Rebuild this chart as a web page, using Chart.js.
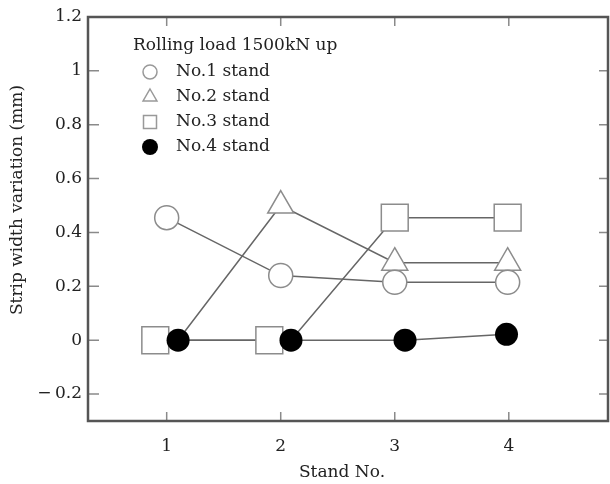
<!DOCTYPE html>
<html><head><meta charset="utf-8">
<script src="https://cdn.jsdelivr.net/npm/chart.js@4/dist/chart.umd.min.js"></script>
<style>html,body{margin:0;padding:0;background:#fff;} canvas{display:block;}</style>
</head><body>
<canvas id="c" width="610" height="484"></canvas>
<script>
const xTickValues = [1, 2, 3, 4];
const xTickLabels = ['1', '2', '3', '4'];
const yTickValues = [-0.2, 0, 0.2, 0.4, 0.6, 0.8, 1.0, 1.2];
const yTickLabels = ['\u2212\u20090.2', '0', '0.2', '0.4', '0.6', '0.8', '1', '1.2'];
const seriesNames = ['No.1 stand', 'No.2 stand', 'No.3 stand', 'No.4 stand'];
const legendTitle = 'Rolling load 1500kN up';
const xTitle = 'Stand No.';
const yTitle = 'Strip width variation (mm)';
const no1X = [1.0, 2.0, 3.0, 3.99];
const no1Y = [0.455, 0.24, 0.215, 0.215];
const no2X = [1.1, 2.0, 3.0, 3.99];
const no2Y = [0, 0.50, 0.288, 0.288];
const no3X = [0.9, 1.9, 2.09, 3.0, 3.99];
const no3Y = [0, 0, 0, 0.455, 0.455];
const no4X = [1.1, 2.09, 3.09, 3.98];
const no4Y = [0, 0, 0, 0.022];

const FONT = "'DejaVu Serif', 'Liberation Serif', serif";
const TXT = '#222';
const LINE = '#666';
const MK = '#8c8c8c';

const pts = (xs, ys) => xs.map((x, i) => ({x, y: ys[i]}));

const decor = {
  id: 'decor',
  afterDraw(chart) {
    const {ctx, chartArea: a, scales: {x, y}} = chart;
    ctx.save();
    ctx.strokeStyle = '#8a8a8a'; ctx.lineWidth = 1.5;
    ctx.beginPath();
    yTickValues.forEach(v => {
      const py = y.getPixelForValue(v);
      ctx.moveTo(a.left, py); ctx.lineTo(a.left + 11, py);
      ctx.moveTo(a.right, py); ctx.lineTo(a.right - 9, py);
    });
    xTickValues.forEach(v => {
      const px = x.getPixelForValue(v);
      ctx.moveTo(px, a.bottom); ctx.lineTo(px, a.bottom - 9);
      ctx.moveTo(px, a.top); ctx.lineTo(px, a.top + 9);
    });
    ctx.stroke();
    ctx.strokeStyle = '#555'; ctx.lineWidth = 2.5;
    ctx.strokeRect(a.left, a.top, a.right - a.left, a.bottom - a.top);

    ctx.fillStyle = TXT;
    ctx.font = '17px ' + FONT;
    ctx.textBaseline = 'middle';
    ctx.textAlign = 'left';
    const lx = a.left + 45, ty = a.top + 29, rowH = 25;
    ctx.fillText(legendTitle, lx, ty);
    const shapes = ['circle', 'triangle', 'rect', 'filled'];
    seriesNames.forEach((name, i) => {
      const cy = ty + 26 + rowH * i;
      const cx = lx + 17;
      ctx.lineWidth = 1.5; ctx.strokeStyle = '#999'; ctx.fillStyle = '#fff';
      ctx.beginPath();
      const s = shapes[i];
      if (s === 'circle') { ctx.arc(cx, cy, 7, 0, Math.PI * 2); ctx.fill(); ctx.stroke(); }
      else if (s === 'triangle') { const r = 8; ctx.moveTo(cx, cy - r); ctx.lineTo(cx + r * 0.866, cy + r / 2); ctx.lineTo(cx - r * 0.866, cy + r / 2); ctx.closePath(); ctx.fill(); ctx.stroke(); }
      else if (s === 'rect') { ctx.rect(cx - 6.5, cy - 6.5, 13, 13); ctx.fill(); ctx.stroke(); }
      else { ctx.fillStyle = '#000'; ctx.arc(cx, cy, 8, 0, Math.PI * 2); ctx.fill(); }
      ctx.fillStyle = TXT;
      ctx.fillText(name, lx + 43, cy);
    });

    ctx.textAlign = 'center';
    ctx.fillText(xTitle, 342, 473);
    ctx.translate(18, 200);
    ctx.rotate(-Math.PI / 2);
    ctx.fillText(yTitle, 0, 0);
    ctx.restore();
  }
};

const common = {borderColor: LINE, borderWidth: 1.5, pointBorderColor: MK, pointBackgroundColor: '#fff', pointBorderWidth: 1.5, showLine: true, tension: 0};

new Chart(document.getElementById('c'), {
  type: 'scatter',
  data: {
    datasets: [
      Object.assign({}, common, {label: seriesNames[0], data: pts(no1X, no1Y), pointStyle: 'circle', pointRadius: 12, order: 1}),
      Object.assign({}, common, {label: seriesNames[1], data: pts(no2X, no2Y), pointStyle: 'triangle', pointRadius: [0, 15, 15, 15], order: 2}),
      Object.assign({}, common, {label: seriesNames[2], data: pts(no3X, no3Y), pointStyle: 'rect', pointRadius: [19, 19, 0, 19, 19], order: 3}),
      Object.assign({}, common, {label: seriesNames[3] + ' line', data: pts(no4X, no4Y), pointRadius: 0, order: 10}),
      Object.assign({}, common, {label: seriesNames[3], data: pts(no4X, no4Y), showLine: false, pointStyle: 'circle', pointRadius: 11.5, pointBackgroundColor: '#000', pointBorderColor: '#000', pointBorderWidth: 0, order: 0})
    ]
  },
  options: {
    responsive: false,
    animation: false,
    devicePixelRatio: 1,
    layout: {autoPadding: false, padding: {top: 17, right: 2, left: 0, bottom: 0}},
    plugins: {legend: {display: false}, tooltip: {enabled: false}},
    scales: {
      x: {
        type: 'linear', min: 0.31, max: 4.87,
        grid: {display: false, drawTicks: false}, border: {display: false},
        afterBuildTicks: s => { s.ticks = xTickValues.map(v => ({value: v})); },
        afterFit: s => { s.height = 63; s.paddingLeft = 0; s.paddingRight = 0; },
        ticks: {padding: 15, color: TXT, font: {family: FONT, size: 17}, callback: (v, i) => xTickLabels[i], maxRotation: 0}
      },
      y: {
        type: 'linear', min: -0.3, max: 1.2,
        grid: {display: false, drawTicks: false}, border: {display: false},
        afterBuildTicks: s => { s.ticks = yTickValues.map(v => ({value: v})); },
        afterFit: s => { s.width = 88; s.paddingTop = 0; s.paddingBottom = 0; },
        ticks: {padding: 6, color: TXT, font: {family: FONT, size: 17}, callback: (v, i) => yTickLabels[i]}
      }
    }
  },
  plugins: [decor]
});
</script>
</body></html>
